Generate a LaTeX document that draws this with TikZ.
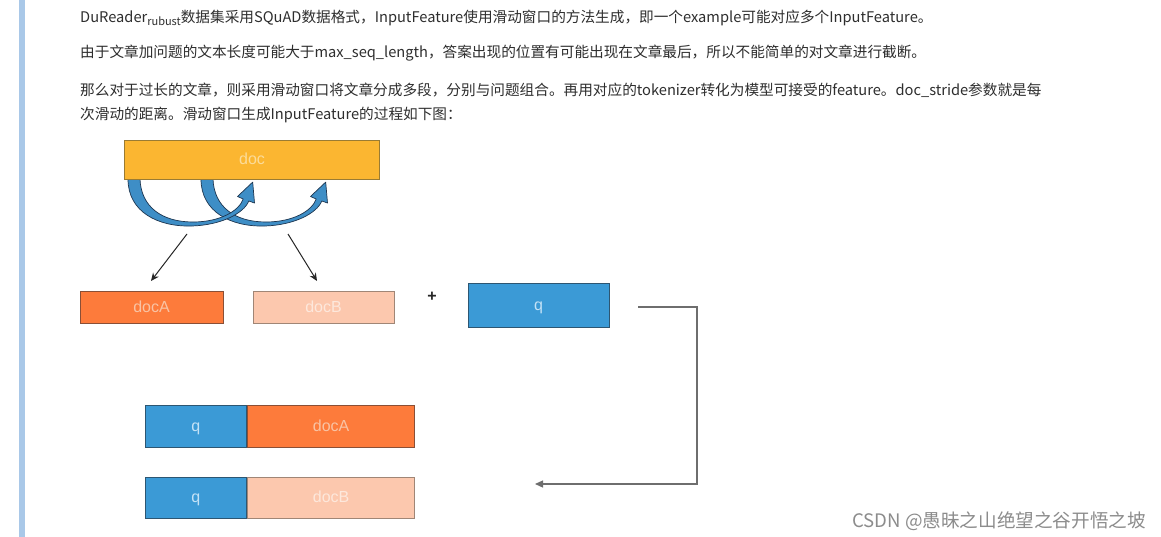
\documentclass[tikz,border=0pt]{standalone}
\usepackage{fontspec}
\setmainfont{Noto Sans CJK SC}
\newfontfamily\boxfont{Liberation Sans}
\usetikzlibrary{arrows.meta}
\definecolor{txtc}{HTML}{2E2E2E}
\definecolor{barblue}{HTML}{A9C8E8}
\definecolor{docY}{HTML}{FBB631}
\definecolor{docYd}{HTML}{9A7B33}
\definecolor{docYt}{HTML}{FCDC9A}
\definecolor{docAf}{HTML}{FD7B3B}
\definecolor{docAd}{HTML}{8A4F36}
\definecolor{docAt}{HTML}{F9C3A4}
\definecolor{docBf}{HTML}{FCC8AE}
\definecolor{docBd}{HTML}{A08676}
\definecolor{docBt}{HTML}{FDE8DC}
\definecolor{qf}{HTML}{3B9AD6}
\definecolor{qd}{HTML}{2D5672}
\definecolor{qt}{HTML}{C4E2F6}
\definecolor{arcf}{HTML}{3E8EC6}
\definecolor{arcd}{HTML}{1E3650}
\definecolor{linec}{HTML}{6E6E6E}
\definecolor{wmark}{HTML}{8C8C8C}
\begin{document}
\begin{tikzpicture}[x=1pt,y=-1pt,
  para/.style={anchor=west,inner sep=0pt,text=txtc,font=\fontsize{14.65}{17}\selectfont},
  boxbase/.style={rectangle,inner sep=0pt,line width=0.9pt,text height=10pt,text depth=0pt,font=\boxfont\fontsize{16}{16}\selectfont},
  docbox/.style={boxbase,fill=docY,draw=docYd,text=docYt},
  docAbox/.style={boxbase,fill=docAf,draw=docAd,text=docAt},
  docBbox/.style={boxbase,fill=docBf,draw=docBd,text=docBt},
  qbox/.style={boxbase,fill=qf,draw=qd,text=qt},
  downarrow/.style={-{Stealth[length=8pt,width=7pt]},line width=1pt,draw=black!85},
  loopline/.style={-{Triangle[length=8pt,width=7pt]},line width=1.3pt,draw=linec},
  arcshape/.style={fill=arcf,draw=arcd,line width=0.7pt,line join=round}
]
\useasboundingbox[fill=white] (0,0) rectangle (1161,537);
\fill[barblue] (19,0) rectangle (25,537);

% paragraph text
\node[para] (l1) at (80,18) {DuReader\raisebox{-3.5pt}{\fontsize{11}{11}\selectfont rubust}数据集采用SQuAD数据格式，InputFeature使用滑动窗口的方法生成，即一个example可能对应多个InputFeature。};
\node[para] (l2) at (80,53) {由于文章加问题的文本长度可能大于max\_seq\_length，答案出现的位置有可能出现在文章最后，所以不能简单的对文章进行截断。};
\node[para] (l3) at (80,90) {那么对于过长的文章，则采用滑动窗口将文章分成多段，分别与问题组合。再用对应的tokenizer转化为模型可接受的feature。doc\_stride参数就是每};
\node[para] (l4) at (80,115) {次滑动的距离。滑动窗口生成InputFeature的过程如下图：};

% curved arrows (drawn below the doc box)
\begin{scope}[shift={(73,0)}]
\path[arcshape] (128,179) .. controls (128,212) and (158,227) .. (192,226)
  .. controls (222,225) and (244,213) .. (248.8,201)
  -- (254.5,203) -- (252.7,182.1) -- (237.5,196.5) -- (243.2,199)
  .. controls (239,211) and (220,222) .. (193,222)
  .. controls (162,222) and (141,207) .. (140,179) -- cycle;
\end{scope}
\path[arcshape] (128,179) .. controls (128,212) and (158,227) .. (192,226)
  .. controls (222,225) and (244,213) .. (248.8,201)
  -- (254.5,203) -- (252.7,182.1) -- (237.5,196.5) -- (243.2,199)
  .. controls (239,211) and (220,222) .. (193,222)
  .. controls (162,222) and (141,207) .. (140,179) -- cycle;

% boxes
\node[docbox,minimum width=255pt,minimum height=39pt] (doc) at (252,159.5) {doc};
\node[docAbox,minimum width=143pt,minimum height=32pt] (docA) at (151.5,307) {docA};
\node[docBbox,minimum width=141pt,minimum height=32.5pt] (docB) at (323.5,307.5) {docB};
\node[inner sep=0pt,font=\boxfont\bfseries\fontsize{16}{16}\selectfont,text=black!85] (plus) at (432,297) {+};
\node[qbox,minimum width=141pt,minimum height=44pt] (q) at (538.5,305) {q};

\node[qbox,minimum width=101.5pt,minimum height=42pt] (q1) at (195.75,426) {q};
\node[docAbox,minimum width=167.5pt,minimum height=42pt,anchor=west] (dA1) at (q1.east) {docA};
\node[qbox,minimum width=101.5pt,minimum height=41pt] (q2) at (195.75,497.5) {q};
\node[docBbox,minimum width=167.5pt,minimum height=41pt,anchor=west] (dB2) at (q2.east) {docB};

% down arrows
\coordinate (a1s) at (187,234);
\coordinate (a1e) at (151,281);
\coordinate (a2s) at (288,234);
\coordinate (a2e) at (317,281);
\draw[downarrow] (a1s) -- (a1e);
\draw[downarrow] (a2s) -- (a2e);

% loop connector
\coordinate (cs) at (638,307);
\coordinate (ce) at (535,484);
\draw[loopline] (cs) -- (697,307) |- (ce);

% watermark
\node[anchor=east,inner sep=0pt,text=wmark,font=\fontsize{18.6}{18.6}\selectfont] (wm) at (1146,521) {CSDN @愚昧之山绝望之谷开悟之坡};
\end{tikzpicture}
\end{document}
